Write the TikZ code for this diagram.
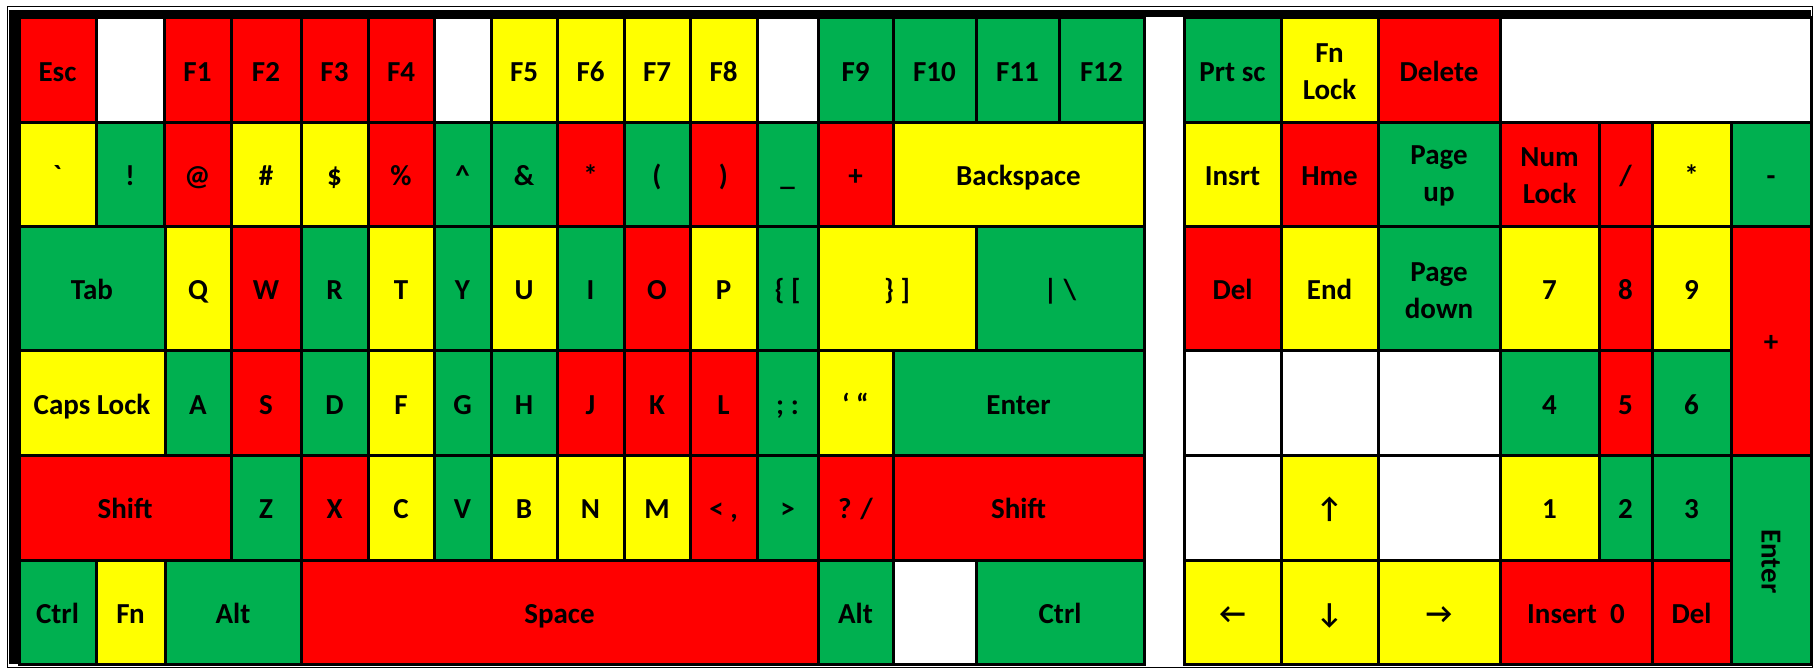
\documentclass[tikz,border=0pt]{standalone}
\usepackage{fontspec}
\setmainfont{Carlito}
\definecolor{kr}{HTML}{FF0000}
\definecolor{ky}{HTML}{FFFF00}
\definecolor{kg}{HTML}{00B050}
\tikzset{
  keybase/.style={draw=black, line width=3pt, inner sep=0pt, align=center, text=black,
    font=\fontsize{29}{37}\selectfont\bfseries},
  key/.style={keybase, text height=18.7pt, text depth=0pt},
  keytwo/.style={keybase},
}
\newcommand\kk[7]{%
  \node[key, fill=#6, minimum width={(#3-#2)*1pt}, minimum height={(#5-#4)*1pt}] (#1) at ({(#2+#3)/2},{(#4+#5)/2}) {};
  \node[key, draw=none, fill=none] (#1txt) at ({(#2+#3)/2},{(#4+#5)/2+2}) {#7};}
\newcommand\kt[7]{%
  \node[keytwo, fill=#6, minimum width={(#3-#2)*1pt}, minimum height={(#5-#4)*1pt}] (#1) at ({(#2+#3)/2},{(#4+#5)/2}) {};
  \node[keytwo, draw=none, fill=none] (#1txt) at ({(#2+#3)/2},{(#4+#5)/2+2}) {#7};}
\begin{document}
\begin{tikzpicture}[x=1pt,y=-1pt]
\useasboundingbox (0,0) rectangle (1814,669);
\fill[white] (0,0) rectangle (1814,669);
% outer frame
\draw[line width=1.5pt] (7.3,6.7) rectangle (1812.5,667.5);
\fill[black] (9.3,10) rectangle (1811,17.5);
\fill[black] (9.3,10) rectangle (19,664);
% row 1
\kk{esc}{19}{96}{17.5}{122}{kr}{Esc}
\kk{blankA}{96}{164}{17.5}{122}{white}{}
\kk{f1}{164}{231}{17.5}{122}{kr}{F1}
\kk{f2}{231}{301}{17.5}{122}{kr}{F2}
\kk{f3}{301}{368}{17.5}{122}{kr}{F3}
\kk{f4}{368}{434}{17.5}{122}{kr}{F4}
\kk{blankB}{434}{491}{17.5}{122}{white}{}
\kk{f5}{491}{557}{17.5}{122}{ky}{F5}
\kk{f6}{557}{624}{17.5}{122}{ky}{F6}
\kk{f7}{624}{690}{17.5}{122}{ky}{F7}
\kk{f8}{690}{757}{17.5}{122}{ky}{F8}
\kk{blankC}{757}{818}{17.5}{122}{white}{}
\kk{f9}{818}{893}{17.5}{122}{kg}{F9}
\kk{f10}{893}{976}{17.5}{122}{kg}{F10}
\kk{f11}{976}{1059}{17.5}{122}{kg}{F11}
\kk{f12}{1059}{1144}{17.5}{122}{kg}{F12}
\kk{prtsc}{1184}{1281}{17.5}{122}{kg}{Prt sc}
\kt{fnlock}{1281}{1378}{17.5}{122}{ky}{Fn\\Lock}
\kk{delete}{1378}{1500}{17.5}{122}{kr}{Delete}
\kk{blankD}{1500}{1811}{17.5}{122}{white}{}
% row 2
\kk{grave}{19}{96}{122}{226}{ky}{\textasciigrave}
\kk{excl}{96}{164}{122}{226}{kg}{!}
\kk{at}{164}{231}{122}{226}{kr}{@}
\kk{hash}{231}{301}{122}{226}{ky}{\#}
\kk{dollar}{301}{368}{122}{226}{ky}{\$}
\kk{pct}{368}{434}{122}{226}{kr}{\%}
\kk{caret}{434}{491}{122}{226}{kg}{\textasciicircum}
\kk{amp}{491}{557}{122}{226}{kg}{\&}
\kk{star}{557}{624}{122}{226}{kr}{*}
\kk{lpar}{624}{690}{122}{226}{kg}{(}
\kk{rpar}{690}{757}{122}{226}{kr}{)}
\kk{under}{757}{818}{122}{226}{kg}{\_}
\kk{plus}{818}{893}{122}{226}{kr}{+}
\kk{bksp}{893}{1144}{122}{226}{ky}{Backspace}
\kk{insrt}{1184}{1281}{122}{226}{ky}{Insrt}
\kk{hme}{1281}{1378}{122}{226}{kr}{Hme}
\kt{pgup}{1378}{1500}{122}{226}{kg}{Page\\up}
\kt{numlk}{1500}{1599}{122}{226}{kr}{Num\\Lock}
\kk{npdiv}{1599}{1652}{122}{226}{kr}{/}
\kk{npmul}{1652}{1731}{122}{226}{ky}{*}
\kk{npsub}{1731}{1811}{122}{226}{kg}{-}
% row 3
\kk{tab}{19}{165}{226}{350.7}{kg}{Tab}
\kk{q}{165}{231}{226}{350.7}{ky}{Q}
\kk{w}{231}{301}{226}{350.7}{kr}{W}
\kk{r}{301}{368}{226}{350.7}{kg}{R}
\kk{t}{368}{434}{226}{350.7}{ky}{T}
\kk{y}{434}{491}{226}{350.7}{kg}{Y}
\kk{u}{491}{557}{226}{350.7}{ky}{U}
\kk{i}{557}{624}{226}{350.7}{kg}{I}
\kk{o}{624}{690}{226}{350.7}{kr}{O}
\kk{p}{690}{757}{226}{350.7}{ky}{P}
\kk{lbr}{757}{818}{226}{350.7}{kg}{\{ [}
\kk{rbr}{818}{976}{226}{350.7}{ky}{\} ]}
\kk{pipe}{976}{1144}{226}{350.7}{kg}{| \textbackslash}
\kk{del}{1184}{1281}{226}{350.7}{kr}{Del}
\kk{end}{1281}{1378}{226}{350.7}{ky}{End}
\kt{pgdn}{1378}{1500}{226}{350.7}{kg}{Page\\down}
\kk{np7}{1500}{1599}{226}{350.7}{ky}{7}
\kk{np8}{1599}{1652}{226}{350.7}{kr}{8}
\kk{np9}{1652}{1731}{226}{350.7}{ky}{9}
\kk{npadd}{1731}{1811}{226}{455}{kr}{+}
% row 4
\kk{caps}{19}{165}{350.7}{455}{ky}{Caps Lock}
\kk{a}{165}{231}{350.7}{455}{kg}{A}
\kk{s}{231}{301}{350.7}{455}{kr}{S}
\kk{d}{301}{368}{350.7}{455}{kg}{D}
\kk{f}{368}{434}{350.7}{455}{ky}{F}
\kk{g}{434}{491}{350.7}{455}{kg}{G}
\kk{h}{491}{557}{350.7}{455}{kg}{H}
\kk{j}{557}{624}{350.7}{455}{kr}{J}
\kk{k}{624}{690}{350.7}{455}{kr}{K}
\kk{l}{690}{757}{350.7}{455}{kr}{L}
\kk{semi}{757}{818}{350.7}{455}{kg}{; :}
\kk{quote}{818}{893}{350.7}{455}{ky}{‘ “}
\kk{enter}{893}{1144}{350.7}{455}{kg}{Enter}
\kk{blankE}{1184}{1281}{350.7}{455}{white}{}
\kk{blankF}{1281}{1378}{350.7}{455}{white}{}
\kk{blankG}{1378}{1500}{350.7}{455}{white}{}
\kk{np4}{1500}{1599}{350.7}{455}{kg}{4}
\kk{np5}{1599}{1652}{350.7}{455}{kr}{5}
\kk{np6}{1652}{1731}{350.7}{455}{kg}{6}
% row 5
\kk{lshift}{19}{231}{455}{560}{kr}{Shift}
\kk{z}{231}{301}{455}{560}{kg}{Z}
\kk{x}{301}{368}{455}{560}{kr}{X}
\kk{c}{368}{434}{455}{560}{ky}{C}
\kk{v}{434}{491}{455}{560}{kg}{V}
\kk{b}{491}{557}{455}{560}{ky}{B}
\kk{n}{557}{624}{455}{560}{ky}{N}
\kk{m}{624}{690}{455}{560}{ky}{M}
\kk{comma}{690}{757}{455}{560}{kr}{< ,}
\kk{gt}{757}{818}{455}{560}{kg}{>}
\kk{slash}{818}{893}{455}{560}{kr}{? /}
\kk{rshift}{893}{1144}{455}{560}{kr}{Shift}
\kk{blankH}{1184}{1281}{455}{560}{white}{}
\kk{up}{1281}{1378}{455}{560}{ky}{↑}
\kk{blankI}{1378}{1500}{455}{560}{white}{}
\kk{np1}{1500}{1599}{455}{560}{ky}{1}
\kk{np2}{1599}{1652}{455}{560}{kg}{2}
\kk{np3}{1652}{1731}{455}{560}{kg}{3}
\kk{npenter}{1731}{1811}{455}{664}{kg}{}
\node[font=\fontsize{29}{37}\selectfont\bfseries, rotate=-90, inner sep=0pt, text height=18.7pt, text depth=0pt] (npenterlbl) at ([yshift=-2pt]npenter.center) {Enter};
% row 6
\kk{lctrl}{19}{96}{560}{664}{kg}{Ctrl}
\kk{fn}{96}{165}{560}{664}{ky}{Fn}
\kk{lalt}{165}{301}{560}{664}{kg}{Alt}
\kk{space}{301}{818}{560}{664}{kr}{Space}
\kk{ralt}{818}{893}{560}{664}{kg}{Alt}
\kk{blankJ}{893}{976}{560}{664}{white}{}
\kk{rctrl}{976}{1144}{560}{664}{kg}{Ctrl}
\kk{left}{1184}{1281}{560}{664}{ky}{←}
\kk{down}{1281}{1378}{560}{664}{ky}{↓}
\kk{right}{1378}{1500}{560}{664}{ky}{→}
\kk{np0}{1500}{1652}{560}{664}{kr}{Insert\ \ 0}
\kk{npdel}{1652}{1731}{560}{664}{kr}{Del}
\end{tikzpicture}
\end{document}
